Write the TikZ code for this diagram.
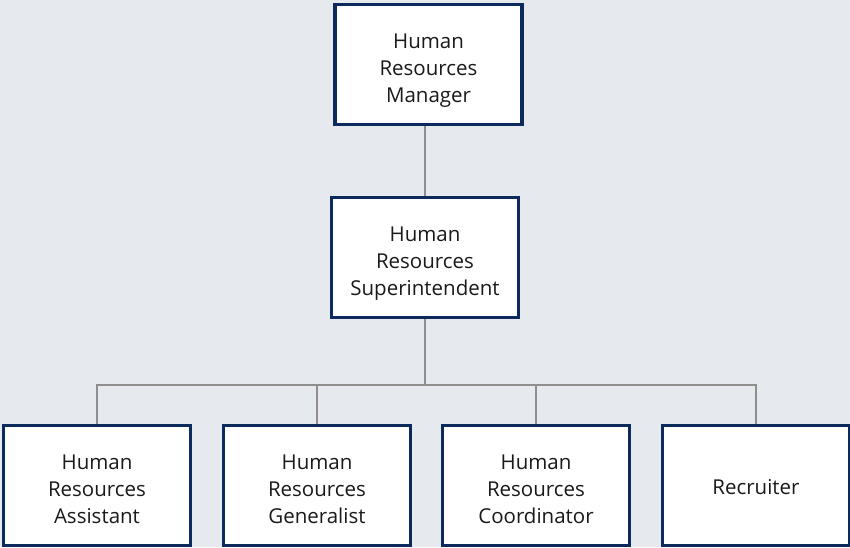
\documentclass[tikz,border=0pt]{standalone}
\usepackage{fontspec}
\setmainfont{Open Sans}
\definecolor{bg}{HTML}{E6E9EE}
\definecolor{navy}{HTML}{0C2A5B}
\definecolor{conn}{HTML}{8E8E8E}
\definecolor{txt}{HTML}{1A1A1A}
\tikzset{
  rolebox/.style={draw=navy, line width=3.5pt, fill=white, minimum width=187pt, minimum height=120pt,
    align=center, text=txt, font=\fontsize{20.5}{27}\selectfont, inner sep=0pt},
  threeline/.style={text height=75pt, text depth=0pt},
  oneline/.style={text height=17pt, text depth=0pt},
  link/.style={draw=conn, line width=2.5pt}
}
\begin{document}
\begin{tikzpicture}[x=1pt,y=-1pt]
\fill[bg] (0,0) rectangle (850,547);
\useasboundingbox (0,0) rectangle (850,547);
\node[rolebox,threeline] (top) at (428.5,64.5) {Human\\Resources\\Manager};
\node[rolebox,threeline] (mid) at (425,257.5) {Human\\Resources\\Superintendent};
\node[rolebox,threeline] (b1) at (97,485.5) {Human\\Resources\\Assistant};
\node[rolebox,threeline] (b2) at (317,485.5) {Human\\Resources\\Generalist};
\node[rolebox,threeline] (b3) at (536,485.5) {Human\\Resources\\Coordinator};
\node[rolebox,oneline] (b4) at (756,485.5) {Recruiter};
\coordinate (bus) at (0,385);
\path[link] (top.south -| mid.north) -- (mid.north);
\path[link] (mid.south) -- (mid.south |- bus);
\path[link] (b1.north) -- (b1.north |- bus) -- (b4.north |- bus) -- (b4.north);
\path[link] (b2.north) -- (b2.north |- bus);
\path[link] (b3.north) -- (b3.north |- bus);
\end{tikzpicture}
\end{document}
